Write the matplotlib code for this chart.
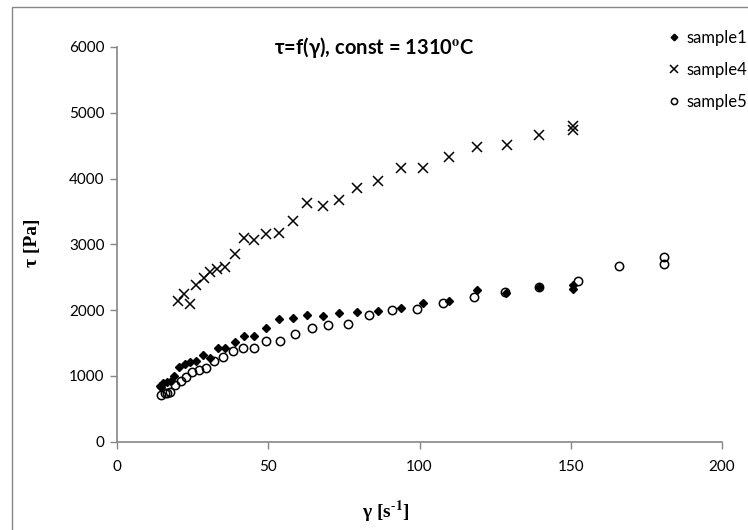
import matplotlib
matplotlib.use("Agg")
import matplotlib.pyplot as plt
from matplotlib.patches import Rectangle

# shear rate [1/s] vs shear stress [Pa]
s1_x = [14.2, 14.7, 15.3, 16.4, 17.7, 18.9, 20.4, 22.4, 24.2, 26.0, 28.4, 30.6, 33.3, 35.7,
        39.0, 42.0, 45.4, 49.2, 53.5, 58.1, 62.8, 68.0, 73.3, 79.3, 86.4, 93.9, 101.3,
        109.6, 119.0, 128.5, 139.4, 150.6, 150.6]
s1_y = [847, 822, 888, 908, 924, 990, 1127, 1178, 1214, 1229, 1321, 1270, 1422, 1422,
        1519, 1611, 1608, 1730, 1858, 1884, 1930, 1904, 1950, 1971, 1990, 2036, 2102,
        2144, 2298, 2256, 2344, 2374, 2322]

s4_x = [20.3, 22.0, 24.0, 26.1, 28.6, 30.6, 33.1, 35.6, 39.1, 42.0, 45.4, 49.1, 53.5, 58.1,
        62.8, 68.0, 73.3, 79.3, 86.4, 93.9, 101.3, 109.6, 119.0, 128.8, 139.4, 150.6, 150.6]
s4_y = [2140, 2250, 2090, 2384, 2486, 2584, 2624, 2653, 2850, 3102, 3064, 3150, 3176, 3350,
        3630, 3580, 3672, 3848, 3959, 4163, 4163, 4333, 4486, 4502, 4655, 4804, 4743]

s5_x = [14.4, 15.8, 16.5, 17.5, 19.3, 21.1, 22.9, 24.9, 27.1, 29.5, 32.2, 34.9, 38.2, 41.5,
        45.2, 49.4, 54.0, 58.8, 64.3, 69.8, 76.4, 83.3, 90.8, 99.1, 107.9, 117.9, 128.3,
        139.6, 152.3, 165.9, 180.8, 180.8]
s5_y = [705, 735, 745, 756, 858, 924, 985, 1051, 1092, 1112, 1229, 1280, 1371, 1417,
        1419, 1524, 1526, 1636, 1720, 1766, 1790, 1923, 2005, 2010, 2113, 2205, 2272,
        2344, 2436, 2676, 2810, 2707]

labels = ["sample1", "sample4", "sample5"]
x_ticks = [0, 50, 100, 150, 200]
y_ticks = [0, 1000, 2000, 3000, 4000, 5000, 6000]

plt.rcParams['mathtext.fontset'] = 'stix'
W, H = 748, 530
fig = plt.figure(figsize=(W / 100, H / 100), dpi=100)
ax = fig.add_axes([117 / W, 1 - 441.5 / H, 605 / W, 394.5 / H])

# outer chart frame (cut by the image edge on the right and bottom)
fig.patches.append(Rectangle((12 / W, -0.05), 1.0, 1 - 7 / H + 0.05, transform=fig.transFigure,
                             fill=False, edgecolor='#868686', linewidth=1.0))

ax.plot(s1_x, s1_y, linestyle='none', marker='D', ms=4.5, color='black', label=labels[0])
ax.plot(s4_x, s4_y, linestyle='none', marker='x', ms=7.5, mew=1.1, color='black', label=labels[1])
ax.plot(s5_x, s5_y, linestyle='none', marker='o', ms=6, mew=1.1, mfc='none', mec='black',
        label=labels[2])

ax.set_xlim(0, 200)
ax.set_ylim(0, 6000)
ax.set_xticks(x_ticks)
ax.set_yticks(y_ticks)
for sp in ['top', 'right']:
    ax.spines[sp].set_visible(False)
for sp in ['left', 'bottom']:
    ax.spines[sp].set_color('#868686')
    ax.spines[sp].set_linewidth(1.2)
ax.tick_params(direction='out', length=5, width=1, color='#868686', labelsize=11, pad=4)
for lab in ax.get_xticklabels() + ax.get_yticklabels():
    lab.set_fontfamily('Lato')
ax.tick_params(axis='x', pad=8)

fig.text(374 / W, 1 - 47 / H, "τ=f(γ), const = 1310$^{\\mathbf{o}}$C", ha='center', va='center',
         fontsize=14.5, fontweight='bold', family='Lato')
fig.text(386 / W, 1 - 512 / H, "γ [s$^{\\mathbf{\\text{-}1}}$]", ha='center', va='center',
         fontsize=14, fontweight='bold', family='Liberation Serif')
fig.text(33 / W, 1 - 243 / H, "τ [Pa]", ha='center', va='center', rotation=90,
         fontsize=14, fontweight='bold', family='Liberation Serif')

leg = ax.legend(loc='upper left', bbox_to_anchor=(667 / W, 1 - 30 / H), bbox_transform=fig.transFigure,
                frameon=False, prop={'family': 'Lato', 'size': 12}, handlelength=0.8,
                handletextpad=0.35, labelspacing=0.95, borderpad=0, borderaxespad=0, markerscale=0.75)

fig.savefig('out.png', dpi=100)
